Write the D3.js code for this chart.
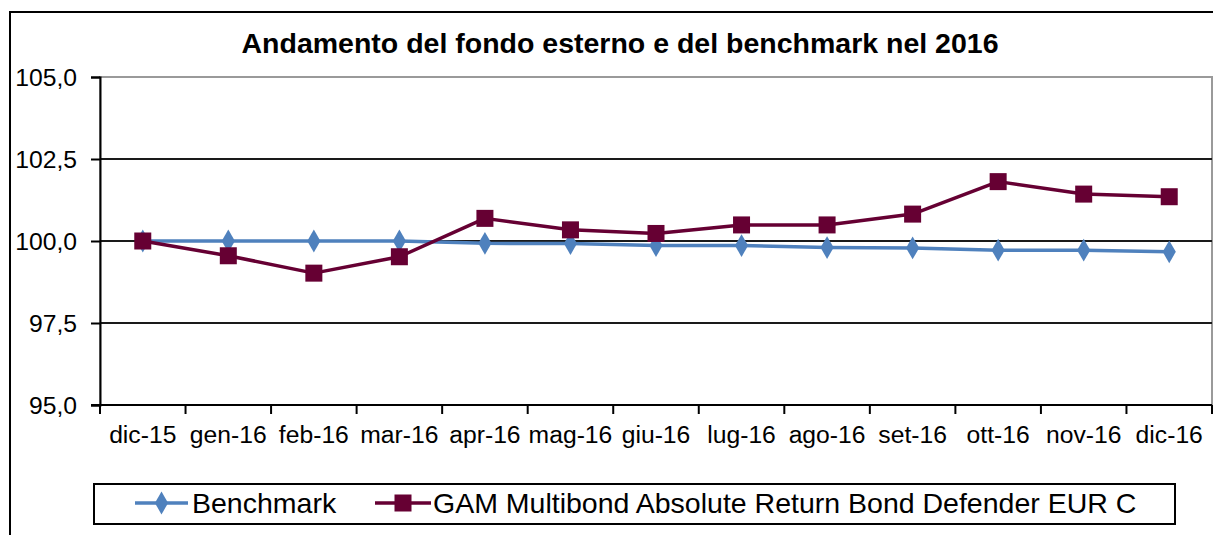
<!DOCTYPE html>
<html>
<head>
<meta charset="utf-8">
<script src="https://cdn.jsdelivr.net/npm/d3@7"></script>
<style>
  html, body { margin: 0; padding: 0; background: #fff; }
  svg { display: block; font-family: "Liberation Sans", Arial, sans-serif; }
</style>
</head>
<body>
<svg id="chart" width="1213" height="535"></svg>
<script>
const title = "Andamento del fondo esterno e del benchmark nel 2016";
const categories = ["dic-15","gen-16","feb-16","mar-16","apr-16","mag-16","giu-16","lug-16","ago-16","set-16","ott-16","nov-16","dic-16"];
const benchmarkName = "Benchmark";
const benchmarkValues = [100.0, 100.0, 100.0, 100.0, 99.93, 99.92, 99.86, 99.86, 99.80, 99.79, 99.72, 99.72, 99.67];
const fundName = "GAM Multibond Absolute Return Bond Defender EUR C";
const fundValues = [100.0, 99.55, 99.02, 99.52, 100.69, 100.34, 100.23, 100.49, 100.49, 100.82, 101.81, 101.43, 101.35];
const yTicks = [95.0, 97.5, 100.0, 102.5, 105.0];

const svg = d3.select("#chart");
const W = 1213, H = 535;
const plot = { left: 100, right: 1212, top: 77, bottom: 405 };

const locale = d3.formatLocale({ decimal: ",", thousands: ".", grouping: [3], currency: ["€", ""] });
const fmt = locale.format(".1f");

const x = d3.scaleBand().domain(categories).range([plot.left, plot.right]).padding(0);
const y = d3.scaleLinear().domain([95, 105]).range([plot.bottom, plot.top]);

// outer chart border
svg.append("rect")
  .attr("x", 10).attr("y", 12).attr("width", W + 10).attr("height", H + 10)
  .attr("fill", "#fff").attr("stroke", "#000").attr("stroke-width", 2);

// title
svg.append("text")
  .attr("x", 620).attr("y", 53)
  .attr("text-anchor", "middle")
  .attr("font-size", 28.5).attr("font-weight", "bold").attr("fill", "#000")
  .text(title);

// plot area border (gray)
svg.append("rect")
  .attr("x", plot.left).attr("y", plot.top)
  .attr("width", plot.right - plot.left).attr("height", plot.bottom - plot.top)
  .attr("fill", "none").attr("stroke", "#9a9a9a").attr("stroke-width", 2);

// gridlines
svg.append("g").selectAll("line")
  .data(yTicks.filter(v => v !== 95 && v !== 105))
  .join("line")
  .attr("x1", plot.left).attr("x2", plot.right)
  .attr("y1", d => y(d)).attr("y2", d => y(d))
  .attr("stroke", "#1a1a1a").attr("stroke-width", 2);

// y axis
const yAxis = svg.append("g")
  .attr("transform", `translate(${plot.left},0)`)
  .call(d3.axisLeft(y).tickValues(yTicks).tickFormat(fmt).tickSize(9).tickPadding(14));
yAxis.select(".domain").attr("stroke", "#000").attr("stroke-width", 2);
yAxis.selectAll(".tick line").attr("stroke", "#000").attr("stroke-width", 2);
yAxis.selectAll(".tick text").attr("font-size", 24.7).attr("fill", "#000")
  .attr("font-family", "Liberation Sans, Arial, sans-serif").attr("dy", "0.36em");

// x axis (labels centred in bands, ticks at band edges)
const xAxis = svg.append("g")
  .attr("transform", `translate(0,${plot.bottom})`)
  .call(d3.axisBottom(x).tickSize(0).tickPadding(20));
xAxis.select(".domain").remove();
xAxis.selectAll(".tick text").attr("font-size", 24.7).attr("fill", "#000")
  .attr("font-family", "Liberation Sans, Arial, sans-serif").attr("dy", "0.71em");
svg.append("line")
  .attr("x1", plot.left - 9).attr("x2", plot.right)
  .attr("y1", plot.bottom).attr("y2", plot.bottom)
  .attr("stroke", "#000").attr("stroke-width", 2);
const edges = categories.map(c => x(c)).concat([x.range()[1]]);
svg.append("g").selectAll("line")
  .data(edges)
  .join("line")
  .attr("x1", d => d).attr("x2", d => d)
  .attr("y1", plot.bottom).attr("y2", plot.bottom + 9)
  .attr("stroke", "#000").attr("stroke-width", 2);

const cx = c => x(c) + x.bandwidth() / 2;
const blue = "#4F81BD", maroon = "#660033";

const line = d3.line().x(d => cx(d.c)).y(d => y(d.v));
const bData = categories.map((c, i) => ({ c, v: benchmarkValues[i] }));
const fData = categories.map((c, i) => ({ c, v: fundValues[i] }));

const diamond = d3.symbol().type(d3.symbolDiamond).size(150);

// Benchmark
svg.append("path").datum(bData).attr("d", line)
  .attr("fill", "none").attr("stroke", blue).attr("stroke-width", 3.5).attr("stroke-linejoin", "round");
svg.append("g").selectAll("path").data(bData).join("path")
  .attr("d", diamond)
  .attr("transform", d => `translate(${cx(d.c)},${y(d.v)})`)
  .attr("fill", blue);

// Fund
svg.append("path").datum(fData).attr("d", line)
  .attr("fill", "none").attr("stroke", maroon).attr("stroke-width", 3.5).attr("stroke-linejoin", "round");
const sq = 17;
svg.append("g").selectAll("rect").data(fData).join("rect")
  .attr("x", d => cx(d.c) - sq / 2).attr("y", d => y(d.v) - sq / 2)
  .attr("width", sq).attr("height", sq)
  .attr("fill", maroon);

// legend
const lg = svg.append("g");
lg.append("rect")
  .attr("x", 94).attr("y", 484).attr("width", 1081).attr("height", 40)
  .attr("fill", "#fff").attr("stroke", "#000").attr("stroke-width", 2);
const ly = 503;
// item 1
lg.append("line").attr("x1", 135).attr("x2", 188).attr("y1", ly).attr("y2", ly)
  .attr("stroke", blue).attr("stroke-width", 3.5);
lg.append("path").attr("d", diamond).attr("transform", `translate(161.5,${ly})`).attr("fill", blue);
lg.append("text").attr("x", 192).attr("y", 513).attr("font-size", 28.5).attr("fill", "#000").text(benchmarkName);
// item 2
lg.append("line").attr("x1", 375).attr("x2", 431).attr("y1", ly).attr("y2", ly)
  .attr("stroke", maroon).attr("stroke-width", 3.5);
lg.append("rect").attr("x", 403 - sq / 2).attr("y", ly - sq / 2).attr("width", sq).attr("height", sq).attr("fill", maroon);
lg.append("text").attr("x", 433).attr("y", 513).attr("font-size", 28.5).attr("fill", "#000").text(fundName);
</script>
</body>
</html>
